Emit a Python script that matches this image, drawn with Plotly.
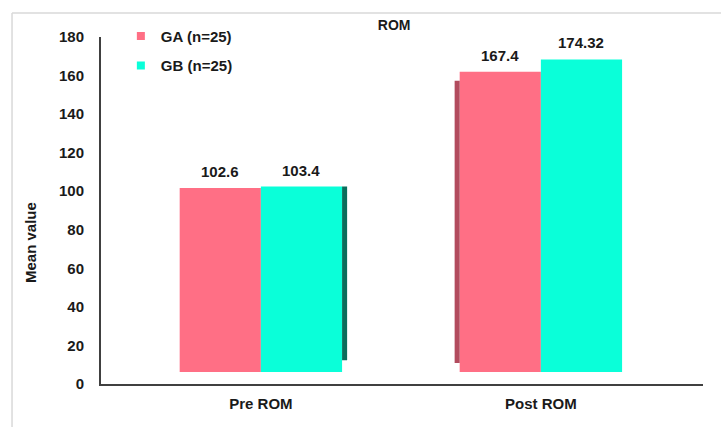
import plotly.graph_objects as go

categories = ["Pre ROM", "Post ROM"]
ga_values = [102.6, 167.4]
gb_values = [103.4, 174.32]
series_names = ["GA (n=25)", "GB (n=25)"]
y_ticks = [0, 20, 40, 60, 80, 100, 120, 140, 160, 180]

GA_COLOR = "#ff6f85"
GB_COLOR = "#0affd9"
GA_SIDE = "#b24c5e"
GB_SIDE = "#0b6e5c"
AXIS_COLOR = "#404040"
TEXT_COLOR = "#1a1a1a"
FONT = "Liberation Sans, Arial, sans-serif"
FS = 15
BAR_W = 0.29
SIDE_W = 0.018
DEPTH = 6.5  # visual depth offset (style)

fig = go.Figure()

# front faces
fig.add_trace(go.Bar(x=categories, y=ga_values, yaxis="y2", offset=-BAR_W, width=BAR_W,
                     marker=dict(color=GA_COLOR, line=dict(width=0)), showlegend=False,
                     hoverinfo="y"))
fig.add_trace(go.Bar(x=categories, y=gb_values, yaxis="y2", offset=0, width=BAR_W,
                     marker=dict(color=GB_COLOR, line=dict(width=0)), showlegend=False,
                     hoverinfo="y"))

# depth side faces: right side of Pre GB, left side of Post GA
fig.add_trace(go.Bar(x=[categories[0]], y=[gb_values[0] - DEPTH], base=[DEPTH], yaxis="y2",
                     offset=BAR_W, width=SIDE_W, marker=dict(color=GB_SIDE, line=dict(width=0)),
                     showlegend=False, hoverinfo="skip"))
fig.add_trace(go.Bar(x=[categories[1]], y=[ga_values[1] - 2 * DEPTH + 3], base=[DEPTH - 1.5],
                     yaxis="y2", offset=-BAR_W - SIDE_W, width=SIDE_W,
                     marker=dict(color=GA_SIDE, line=dict(width=0)),
                     showlegend=False, hoverinfo="skip"))

# legend entries
for name, col in zip(series_names, [GA_COLOR, GB_COLOR]):
    fig.add_trace(go.Scatter(x=[None], y=[None], mode="markers", name=name, legendgroup=name,
                             marker=dict(symbol="square", size=8, color=col)))

annotations = []
for cat, va, vb in zip(categories, ga_values, gb_values):
    for v, shift in [(va, -BAR_W * 280 / 2), (vb, BAR_W * 280 / 2)]:
        annotations.append(dict(x=cat, y=v, xref="x", yref="y2", text=f"{v:g}",
                                showarrow=False, xshift=shift, yanchor="bottom", yshift=6,
                                font=dict(family=FONT, size=FS, color=TEXT_COLOR, weight="bold")))

annotations.append(dict(x=-0.118, y=0.409, xref="paper", yref="paper", text="Mean value",
                        textangle=-90, showarrow=False, xanchor="center", yanchor="middle",
                        font=dict(family=FONT, size=FS, color=TEXT_COLOR, weight="bold")))

fig.update_layout(
    width=721, height=427,
    margin=dict(l=101, r=18, t=37, b=43),
    paper_bgcolor="white", plot_bgcolor="white",
    barmode="overlay",
    title=dict(text="ROM", x=0.487, xref="paper", xanchor="center", y=1 - 25 / 427, yanchor="middle",
               font=dict(family=FONT, size=14, color=TEXT_COLOR, weight="bold")),
    xaxis=dict(type="category", range=[-0.571, 1.579], showline=True, linecolor=AXIS_COLOR,
               linewidth=2, ticks="", showgrid=False, zeroline=False, ticklabelstandoff=5,
               tickfont=dict(family=FONT, size=FS, color=TEXT_COLOR, weight="bold")),
    yaxis=dict(range=[0, 180], tickvals=y_ticks, showline=True, linecolor=AXIS_COLOR, linewidth=2,
               ticks="", showgrid=False, zeroline=False, ticklabelstandoff=12,
               tickfont=dict(family=FONT, size=FS, color=TEXT_COLOR, weight="bold")),
    yaxis2=dict(range=[-12 / 1.793, 335 / 1.793], overlaying="y", visible=False),
    legend=dict(x=0.033, y=1.05, xanchor="left", yanchor="top", traceorder="grouped",
                tracegroupgap=7, bgcolor="rgba(0,0,0,0)",
                font=dict(family=FONT, size=FS, color=TEXT_COLOR, weight="bold")),
    annotations=annotations,
    shapes=[
        dict(type="line", xref="paper", yref="paper", x0=-0.1478, x1=1.05, y0=1.0692, y1=1.0692,
             line=dict(color="#d9d9d9", width=1.5)),
        dict(type="line", xref="paper", yref="paper", x0=-0.1478, x1=-0.1478, y0=-0.13, y1=1.0692,
             line=dict(color="#d9d9d9", width=1.5)),
    ],
)

fig.write_html("out.html")
